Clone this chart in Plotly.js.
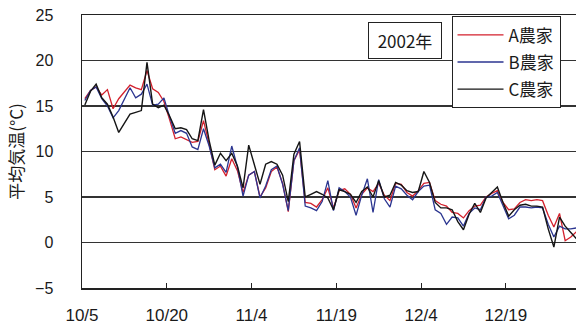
<!DOCTYPE html>
<html><head><meta charset="utf-8">
<script src="https://cdn.plot.ly/plotly-3.0.1.min.js"></script>
<style>html,body{margin:0;padding:0;background:#fff}</style>
</head><body><div id="chart" style="width:576px;height:325px"></div>
<script>
const startDate = [2002, 9, 5];
const seriesNames = ['A農家', 'B農家', 'C農家'];
const farmA = [15.8, 16.7, 17.1, 16.2, 16.8, 14.7, 15.8, 16.6, 17.3, 17.0, 16.8,
  18.9, 16.9, 16.5, 15.5, 13.5, 11.4, 11.6, 11.3, 11.0, 11.1,
  13.4, 10.8, 8.0, 8.4, 7.3, 9.2, 7.9, 5.5, 7.4, 7.8,
  5.0, 6.0, 7.8, 8.3, 6.5, 3.4, 9.0, 10.2, 4.4, 4.3,
  3.9, 4.7, 6.0, 3.8, 5.7, 5.9, 5.3, 3.8, 5.3, 6.0,
  5.6, 6.5, 5.2, 4.6, 6.5, 6.4, 5.5, 5.1, 5.7, 6.5,
  6.6, 4.6, 4.2, 4.0, 3.3, 3.2, 2.7, 3.5, 4.0, 4.1,
  5.0, 5.4, 5.7, 4.4, 3.6, 3.7, 4.4, 4.7, 4.6, 4.7,
  4.6, 3.0, 1.7, 3.2, 0.2, 0.6, 1.2];
const farmB = [15.6, 16.7, 17.1, 15.8, 15.0, 13.7, 14.5, 15.7, 17.0, 15.9, 16.3,
  17.4, 15.1, 15.2, 15.9, 13.8, 12.0, 12.3, 12.0, 10.5, 10.2,
  12.5, 10.6, 8.2, 8.6, 7.7, 10.6, 8.3, 5.1, 7.4, 7.8,
  4.9, 6.2, 8.0, 8.4, 6.4, 3.5, 9.0, 10.4, 4.0, 3.8,
  3.5, 4.5, 6.8, 3.5, 6.0, 5.6, 5.0, 3.0, 5.2, 7.0,
  3.3, 6.9, 4.8, 3.9, 6.2, 5.9, 5.2, 4.7, 5.6, 6.2,
  6.3, 3.6, 3.2, 2.0, 2.8, 2.7, 1.8, 3.2, 3.8, 3.6,
  5.0, 5.1, 5.5, 4.0, 2.6, 3.0, 3.9, 3.9, 3.8, 3.9,
  3.8, 2.0, 0.6, 1.8, 1.5, 1.5, 1.6];
const farmC = [15.1, 16.6, 17.4, 15.9, 15.2, 13.8, 12.1, 13.1, 14.1, 14.3, 14.5,
  19.8, 15.2, 14.8, 15.1, 13.9, 12.5, 12.6, 12.4, 11.4, 11.2,
  14.6, 11.2, 8.5, 9.8, 9.0, 9.8, 8.4, 6.0, 10.7, 8.6,
  6.4, 8.6, 8.9, 8.6, 7.4, 4.5, 9.7, 11.1, 5.0, 5.3,
  5.6, 5.3, 4.9, 3.6, 5.8, 5.6, 5.3, 4.4, 5.6, 6.1,
  5.0, 6.8, 5.0, 5.2, 6.6, 6.3, 5.7, 5.5, 5.6, 7.8,
  6.6, 4.4, 3.8, 3.8, 3.6, 2.3, 1.4, 3.1, 4.3, 3.3,
  4.9, 5.5, 6.1, 4.4, 2.9, 3.6, 4.1, 4.2, 4.0, 4.0,
  3.9, 1.5, -0.5, 2.8, 1.8, 1.1, 0.4];
const tickDates = ['2002-10-05', '2002-10-20', '2002-11-04', '2002-11-19', '2002-12-04', '2002-12-19'];
const tickLabels = ['10/5', '10/20', '11/4', '11/19', '12/4', '12/19'];
const yearLabel = '2002年';
const yTitle = '平均気温(°C)';

function pad(n) { return (n < 10 ? '0' : '') + n; }
const dates = farmA.map((_, i) => {
  const d = new Date(Date.UTC(startDate[0], startDate[1], startDate[2] + i));
  return d.getUTCFullYear() + '-' + pad(d.getUTCMonth() + 1) + '-' + pad(d.getUTCDate()) + ' 12:00';
});

const colors = ['#d3212d', '#2b3590', '#151515'];
const values = [farmA, farmB, farmC];
const traces = values.map((v, i) => ({
  x: dates, y: v, type: 'scatter', mode: 'lines', name: seriesNames[i],
  legendgroup: 'g' + i,
  line: {color: colors[i], width: i === 2 ? 1.4 : 1.3}
}));

const jp = '"Noto Sans CJK JP", "Liberation Sans", sans-serif';
const num = '"Liberation Sans", Arial, sans-serif';
const layout = {
  width: 576, height: 325,
  margin: {l: 82, r: 0, t: 15, b: 37},
  paper_bgcolor: '#ffffff', plot_bgcolor: '#ffffff',
  font: {family: num, size: 16, color: '#222'},
  showlegend: true,
  legend: {
    x: 0.748, y: 0.995, xanchor: 'left', yanchor: 'top',
    bordercolor: '#222', borderwidth: 1, bgcolor: '#ffffff',
    font: {family: jp, size: 17, color: '#1a1a1a'},
    traceorder: 'grouped', tracegroupgap: 2, itemwidth: 46
  },
  xaxis: {
    type: 'date',
    range: ['2002-10-05 00:00', '2002-12-31 10:00'],
    tickmode: 'array', tickvals: tickDates, ticktext: tickLabels,
    ticks: 'inside', ticklen: 5, tickcolor: '#222', tickwidth: 1,
    ticklabelstandoff: 11,
    showline: true, linecolor: '#222', linewidth: 1.5, mirror: true,
    showgrid: false, zeroline: false,
    tickfont: {family: num, size: 17, color: '#1a1a1a'}
  },
  yaxis: {
    range: [-5, 25], dtick: 5, tick0: 0,
    showline: true, linecolor: '#222', linewidth: 1.5,
    showgrid: true, gridcolor: '#333', gridwidth: 1.2,
    zeroline: false, ticks: '',
    ticklabelstandoff: 24,
    tickfont: {family: num, size: 16, color: '#1a1a1a'},
    title: {text: yTitle, font: {family: jp, size: 17, color: '#1a1a1a'}, standoff: 7}
  },
  annotations: [{
    text: yearLabel, xref: 'paper', yref: 'paper', x: 0.654, y: 0.908,
    xanchor: 'center', yanchor: 'middle', showarrow: false,
    font: {family: jp, size: 17, color: '#1a1a1a'},
    bordercolor: '#222', borderwidth: 1, bgcolor: '#ffffff',
    width: 72, height: 35, borderpad: 0
  }]
};

Plotly.newPlot('chart', traces, layout, {displayModeBar: false, staticPlot: true});
</script></body></html>
